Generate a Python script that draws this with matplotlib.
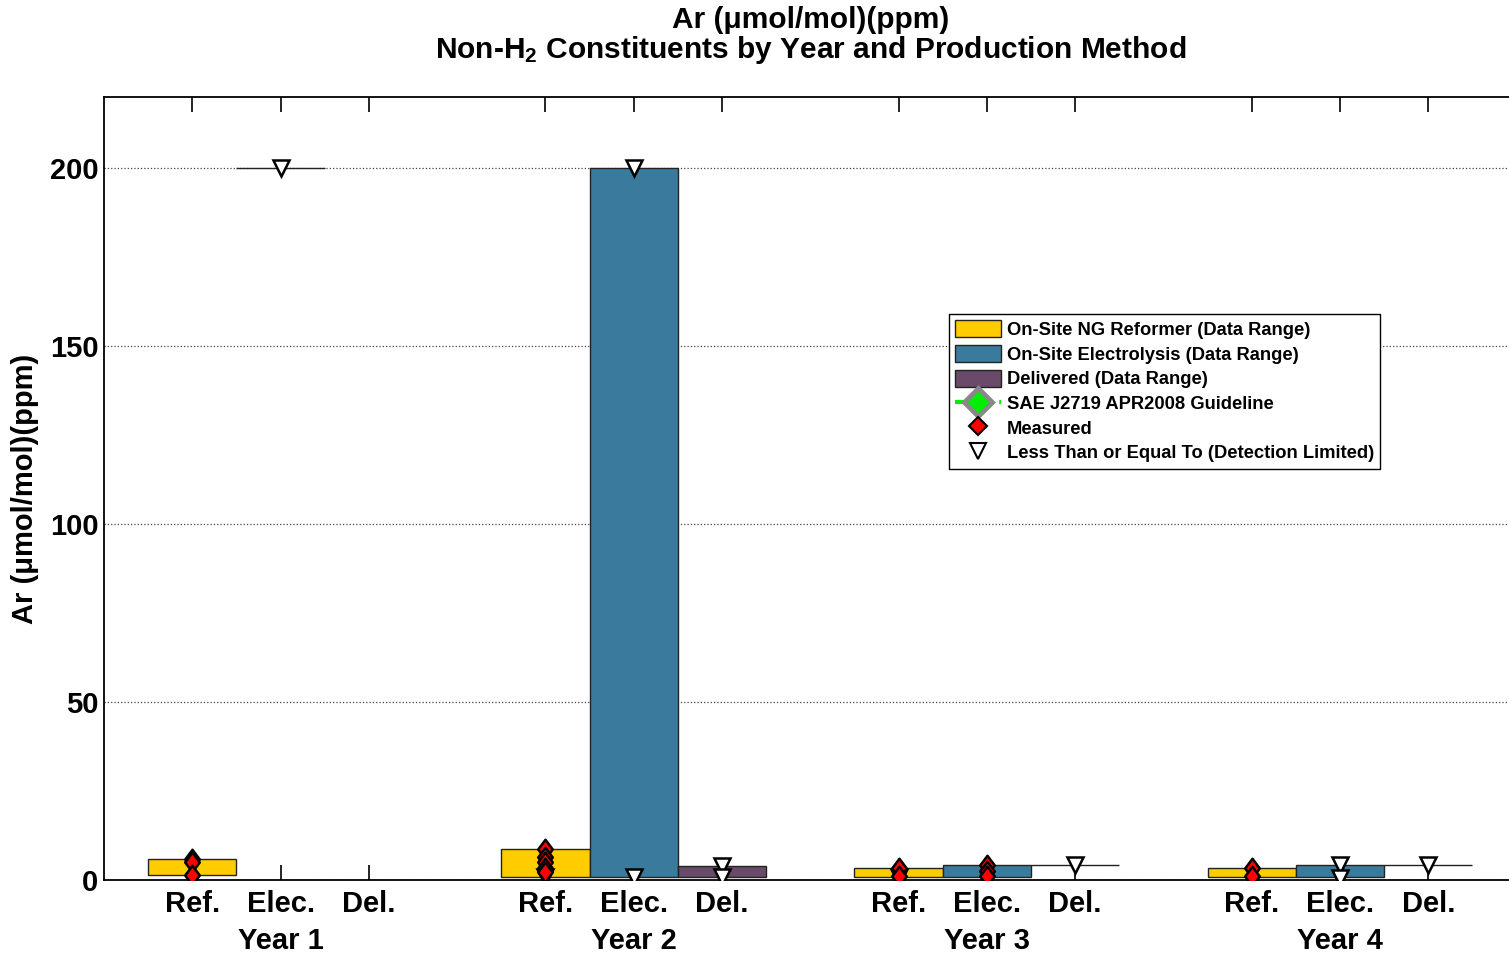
import numpy as np
import matplotlib
matplotlib.use('agg')
import matplotlib.pyplot as plt
from matplotlib.patches import Patch
from matplotlib.lines import Line2D
from matplotlib.path import Path
from matplotlib.transforms import blended_transform_factory

# fonts: Arial-like bold everywhere, mathtext too (for the H2 subscript)
plt.rcParams['font.family'] = ['Liberation Sans', 'DejaVu Sans']
plt.rcParams['font.weight'] = 'bold'
plt.rcParams['mathtext.fontset'] = 'custom'
plt.rcParams['mathtext.rm'] = 'Liberation Sans:bold'
plt.rcParams['mathtext.it'] = 'Liberation Sans:bold'
plt.rcParams['mathtext.bf'] = 'Liberation Sans:bold'
plt.rcParams['mathtext.default'] = 'rm'

# ---- data ----
years = ["Year 1", "Year 2", "Year 3", "Year 4"]
methods = ["Ref.", "Elec.", "Del."]

# data range per year (low, high); nan = no data
ref_low = [1.4, 0.8, 0.8, 0.8]
ref_high = [5.9, 8.6, 3.4, 3.5]
elec_low = [200, 0.8, 0.8, 0.8]
elec_high = [200, 200, 4.2, 4.2]
del_low = [np.nan, 0.8, 4.2, 4.2]
del_high = [np.nan, 4.0, 4.2, 4.2]

# measured points, one list per (year, method) slot
measured = [
    [5.9, 5.0, 1.4], [], [],
    [8.6, 6.5, 5.0, 3.5, 2.2], [], [],
    [3.4, 1.2], [4.2, 2.5, 1.2], [],
    [3.5, 1.2], [], [],
]
# less than or equal to (detection limited)
detect_lim = [
    [], [200], [],
    [0.8], [200, 0.8], [4.0, 0.8],
    [0.8], [], [4.2],
    [], [4.2, 0.6], [4.2],
]

colors = ["#FFCC00", "#3A7B9D", "#694A69"]
legend_names = ["On-Site NG Reformer (Data Range)",
                "On-Site Electrolysis (Data Range)",
                "Delivered (Data Range)"]

# matlab style diamond, a bit taller than wide
diamond = Path([(0, 1), (0.75, 0), (0, -1), (-0.75, 0), (0, 1)],
               [Path.MOVETO, Path.LINETO, Path.LINETO, Path.LINETO, Path.CLOSEPOLY])

fig = plt.figure(figsize=(15.09, 9.57), dpi=100)
ax = fig.add_axes([104 / 1509, 1 - 880 / 957, 1412.6 / 1509, 783 / 957])

# slot positions: 3 methods per year, one empty slot between years
pos = []
for i in range(len(years)):
    for j in range(len(methods)):
        pos.append(1 + 4 * i + j)
pos = np.array(pos)

lows = [ref_low, elec_low, del_low]
highs = [ref_high, elec_high, del_high]
for j in range(3):
    lo = np.array(lows[j], dtype=float)
    hi = np.array(highs[j], dtype=float)
    ok = ~np.isnan(lo)
    ax.bar(pos[j::3][ok], (hi - lo)[ok], bottom=lo[ok], width=1.0,
           color=colors[j], edgecolor="#222222", linewidth=1.0, zorder=2)

for k in range(len(pos)):
    if detect_lim[k]:
        ax.plot([pos[k]] * len(detect_lim[k]), detect_lim[k], linestyle='none',
                marker='v', markersize=11, markerfacecolor='white',
                markeredgecolor='black', markeredgewidth=1.8, zorder=3)
for k in range(len(pos)):
    if measured[k]:
        ax.plot([pos[k]] * len(measured[k]), measured[k], linestyle='none',
                marker=diamond, markersize=14, markerfacecolor='red',
                markeredgecolor='black', markeredgewidth=1.8, zorder=4)

ax.set_xlim(0, 16)
ax.set_ylim(0, 220)
ax.set_yticks([0, 50, 100, 150, 200])
ax.set_xticks(pos)
ax.set_xticklabels(methods * len(years))
ax.tick_params(axis='x', direction='in', length=11, width=1.2, top=True,
               labelsize=21, pad=7)
ax.tick_params(axis='y', direction='in', length=0, labelsize=21, pad=4)
for lab in ax.get_xticklabels() + ax.get_yticklabels():
    lab.set_fontweight('bold')
ax.yaxis.grid(True, linestyle=':', color='#444444', linewidth=0.9, zorder=0)
ax.set_axisbelow(True)
for s in ax.spines.values():
    s.set_linewidth(1.3)

trans = blended_transform_factory(ax.transData, ax.transAxes)
for i, yr in enumerate(years):
    ax.text(2 + 4 * i, -0.078, yr, transform=trans, ha='center', va='center',
            fontsize=21, fontweight='bold')

ax.set_ylabel("Ar (μmol/mol)(ppm)", fontsize=21, fontweight='bold', labelpad=8)

# title centred over the axes (which run past the right edge)
tx = (104 + 1412.6 / 2) / 1509
fig.text(tx, 1 - 20 / 957, "Ar (μmol/mol)(ppm)", ha='center', va='center',
         fontsize=21.5, fontweight='bold')
fig.text(tx, 1 - 50 / 957, "Non-H$_2$ Constituents by Year and Production Method",
         ha='center', va='center', fontsize=21.5, fontweight='bold')

handles = [Patch(facecolor=colors[j], edgecolor='#222222', label=legend_names[j])
           for j in range(3)]
handles.append(Line2D([], [], color='#00EE00', linestyle='--', linewidth=3,
                      marker='D', markersize=14, markerfacecolor='#00EE00',
                      markeredgecolor='#888888', markeredgewidth=3.5,
                      label="SAE J2719 APR2008 Guideline"))
handles.append(Line2D([], [], linestyle='none', marker='D', markersize=9,
                      markerfacecolor='red', markeredgecolor='black',
                      markeredgewidth=1.5, label="Measured"))
handles.append(Line2D([], [], linestyle='none', marker='v', markersize=11,
                      markerfacecolor='white', markeredgecolor='black',
                      markeredgewidth=1.5,
                      label="Less Than or Equal To (Detection Limited)"))
leg = ax.legend(handles=handles, loc='upper left',
                bbox_to_anchor=((949 - 104) / 1412.6, (880 - 314) / 783),
                prop={'weight': 'bold', 'size': 13.2},
                frameon=True, fancybox=False, framealpha=1, edgecolor='black',
                borderpad=0.35, labelspacing=0.32, handlelength=2.5,
                handleheight=1.05, handletextpad=0.3, numpoints=1,
                borderaxespad=0)
leg.get_frame().set_linewidth(1.0)

fig.savefig("out.png", dpi=100)
